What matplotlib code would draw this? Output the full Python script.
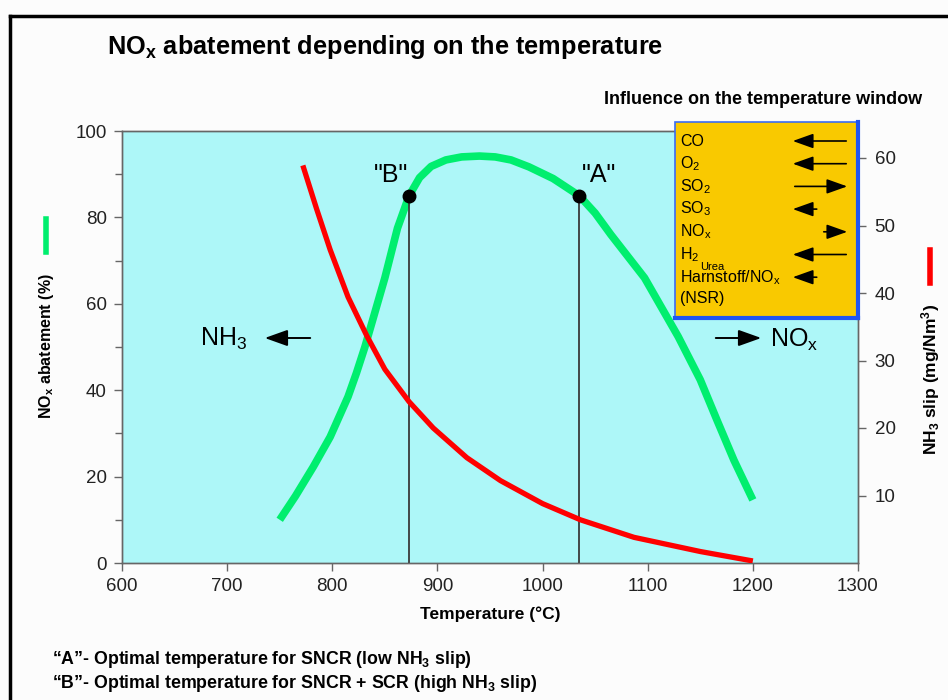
import matplotlib.pyplot as plt
from matplotlib.lines import Line2D
from matplotlib.patches import Rectangle, FancyArrowPatch
from matplotlib.ticker import MultipleLocator

plt.rcParams['font.family'] = ['Liberation Sans', 'DejaVu Sans']
plt.rcParams['mathtext.fontset'] = 'custom'
plt.rcParams['mathtext.rm'] = 'Liberation Sans'
plt.rcParams['mathtext.it'] = 'Liberation Sans:italic'
plt.rcParams['mathtext.bf'] = 'Liberation Sans:bold'

# NOx abatement (%) over temperature (°C)
temp_nox = [750, 765, 782, 798, 815, 823, 831, 850, 862, 873, 883, 894, 908, 923, 940,
            955, 970, 987, 1010, 1035, 1050, 1065, 1097, 1129, 1150, 1166, 1182, 1200]
nox_abatement = [10, 15.5, 22.3, 29.2, 38.5, 44, 50, 66, 77.5, 85, 89.2, 91.8, 93.3, 94, 94.2,
                 94, 93.3, 91.7, 89, 85, 81, 76, 66, 52.4, 42.4, 33, 23.8, 14.6]

# NH3 slip (mg/Nm3) over temperature (°C)
temp_nh3 = [772, 785, 798, 815, 833, 850, 873, 896, 928, 960, 1000, 1036, 1087, 1150, 1200]
nh3_slip = [58.9, 52.5, 46.4, 39.4, 33.6, 28.7, 23.9, 20.0, 15.6, 12.2, 8.8, 6.4, 3.8, 1.7, 0.3]

# optimal temperatures
opt_labels = ['"B"', '"A"']
opt_temp = [873, 1035]
opt_nox = [85, 85]

# influence on the temperature window (arrow direction / length)
species = ['CO', 'O$_2$', 'SO$_2$', 'SO$_3$', 'NO$_\\mathrm{x}$', 'H$_2$',
           'Harnstoff/NO$_\\mathrm{x}$']
shift = [-1, -1, 1, -0.5, 0.5, -1, -0.5]

W, H = 948, 700


def px(x, y):
    return (x / W, 1 - y / H)


fig = plt.figure(figsize=(9.48, 7), dpi=100)
fig.patch.set_facecolor('#fcfcfc')

ax = fig.add_axes([122 / W, 1 - 563 / H, 736 / W, 432 / H])
ax.set_facecolor('#adf7f8')
ax.set_xlim(600, 1300)
ax.set_ylim(0, 100)

ax.plot(temp_nox, nox_abatement, color='#00ee6e', lw=5.5, solid_capstyle='butt',
        solid_joinstyle='round', zorder=3)
ax.vlines(opt_temp, 0, opt_nox, color='#3a3a3a', lw=1.3, zorder=4)
ax.plot(opt_temp, opt_nox, 'o', color='black', ms=9, zorder=5)
for lab, t, v, dx in zip(opt_labels, opt_temp, opt_nox, [-13, 14]):
    ax.annotate(lab, (t, v), xytext=(dx, 6), textcoords='offset points',
                ha='center', va='bottom', fontsize=18)

ax.xaxis.set_major_locator(MultipleLocator(100))
ax.yaxis.set_major_locator(MultipleLocator(20))
ax.yaxis.set_minor_locator(MultipleLocator(10))
ax.tick_params(axis='both', which='major', direction='out', length=6, width=1,
               color='#666666', labelsize=13.5, labelcolor='#222222', pad=5)
ax.tick_params(axis='y', which='minor', direction='out', length=5, width=1, color='#666666')

ax2 = ax.twinx()
ax2.set_ylim(0, 64)
ax2.plot(temp_nh3, nh3_slip, color='#ff0000', lw=3.8, solid_capstyle='butt',
         solid_joinstyle='round', zorder=3)
ax2.set_yticks([10, 20, 30, 40, 50, 60])
ax2.tick_params(axis='y', direction='out', length=6, width=1, color='#666666',
                labelsize=13.5, labelcolor='#222222', pad=6)

for a in (ax, ax2):
    for s in a.spines.values():
        s.set_color('#666666')
        s.set_linewidth(1)

# yellow influence box
box = Rectangle((0.7514, 0.567), 0.2486, 0.454, transform=ax.transAxes,
                facecolor='#f9c900', edgecolor='#3b6cf5', lw=1.2, clip_on=False, zorder=6)
ax2.add_patch(box)
ax2.add_line(Line2D([1.0, 1.0], [0.567, 1.021], transform=ax.transAxes, color='#1f55f0',
                    lw=3, clip_on=False, zorder=7))
ax2.add_line(Line2D([0.7514, 1.0], [0.567, 0.567], transform=ax.transAxes, color='#1f55f0',
                    lw=3, clip_on=False, zorder=7))

for i, (sp, d) in enumerate(zip(species, shift)):
    y = 141 + i * 22.7
    fig.text(*px(680, y), sp, fontsize=11.5, ha='left', va='center', zorder=10)
    if d < 0:
        a0, a1 = 790 + 59 * abs(d), 790
    else:
        a0, a1 = 850 - 58 * d, 850
    fig.add_artist(FancyArrowPatch(px(a0, y), px(a1, y), transform=fig.transFigure,
                                   arrowstyle='-|>,head_length=0.7,head_width=0.25',
                                   mutation_scale=18, lw=1.2, color='black', zorder=10))
fig.text(*px(700, 267), 'Urea', fontsize=8, ha='left', va='center', zorder=11)
fig.text(*px(680, 298), '(NSR)', fontsize=11.5, ha='left', va='center', zorder=10)

# NH3 / NOx arrows
fig.text(*px(200, 339), 'NH$_3$', fontsize=18, ha='left', va='center')
fig.add_artist(FancyArrowPatch(px(313, 338), px(262, 338), transform=fig.transFigure,
                               arrowstyle='-|>,head_length=0.7,head_width=0.25',
                               mutation_scale=20, lw=1.4, color='black'))
fig.text(*px(770, 340), 'NO$_\\mathrm{x}$', fontsize=18, ha='left', va='center')
fig.add_artist(FancyArrowPatch(px(713, 338), px(764, 338), transform=fig.transFigure,
                               arrowstyle='-|>,head_length=0.7,head_width=0.25',
                               mutation_scale=20, lw=1.4, color='black'))

# titles and labels
fig.text(*px(107, 47), 'NO$_\\mathbf{x}$ abatement depending on the temperature',
         fontsize=18.3, fontweight='bold', ha='left', va='center')
fig.text(*px(604, 99), 'Influence on the temperature window', fontsize=13,
         fontweight='bold', ha='left', va='center')
fig.text(*px(490, 614), 'Temperature (°C)', fontsize=12.5, fontweight='bold',
         ha='center', va='center')
fig.text(*px(47, 346), 'NO$_\\mathbf{x}$ abatement (%)', fontsize=11.5, fontweight='bold',
         ha='center', va='center', rotation=90)
fig.text(*px(931, 379), 'NH$_\\mathbf{3}$ slip (mg/Nm$^\\mathbf{3}$)', fontsize=12.5,
         fontweight='bold', ha='center', va='center', rotation=90)

# colour keys next to the axis labels
fig.add_artist(Line2D([46 / W] * 2, [1 - 219 / H, 1 - 252 / H], transform=fig.transFigure,
                      color='#00ee6e', lw=4))
fig.add_artist(Line2D([930 / W] * 2, [1 - 250 / H, 1 - 283 / H], transform=fig.transFigure,
                      color='#ff0000', lw=4))

# notes
fig.text(*px(52, 660), '\u201cA\u201d- Optimal temperature for SNCR (low NH$_\\mathbf{3}$ slip)',
         fontsize=12.8, fontweight='bold', ha='left', va='center')
fig.text(*px(52, 683), '\u201cB\u201d- Optimal temperature for SNCR + SCR (high NH$_\\mathbf{3}$ slip)',
         fontsize=12.8, fontweight='bold', ha='left', va='center')

# frame
fig.add_artist(Line2D([10 / W, 1], [1 - 16 / H] * 2, transform=fig.transFigure, color='black', lw=2.5))
fig.add_artist(Line2D([10 / W] * 2, [1 - 16 / H, 0], transform=fig.transFigure, color='black', lw=2.5))

fig.savefig('out.png', dpi=100, facecolor=fig.get_facecolor())
